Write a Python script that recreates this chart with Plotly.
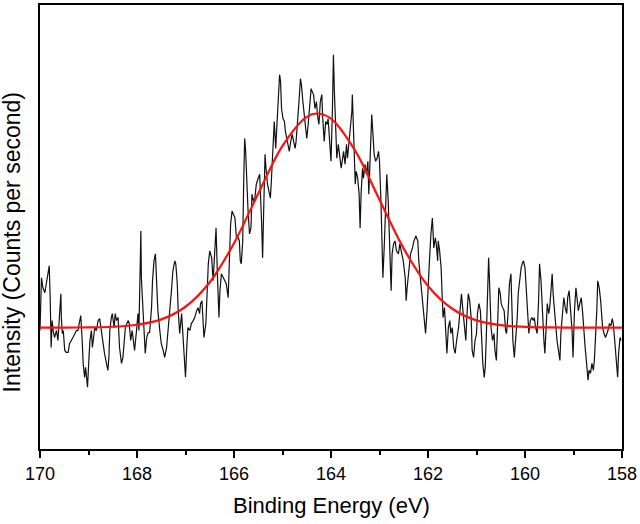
import plotly.graph_objects as go

# Binding energy (eV) and intensity (arbitrary units)
energy = [
    170.00, 169.97, 169.94, 169.90, 169.87, 169.83, 169.81, 169.79, 169.78, 169.77,
    169.75, 169.73, 169.70, 169.66, 169.63, 169.61, 169.59, 169.57, 169.56, 169.54,
    169.52, 169.49, 169.46, 169.42, 169.39, 169.35, 169.32, 169.28, 169.25, 169.22,
    169.18, 169.16, 169.13, 169.11, 169.08, 169.06, 169.02, 169.01, 168.99, 168.97,
    168.94, 168.92, 168.90, 168.87, 168.84, 168.80, 168.77, 168.74, 168.70, 168.67,
    168.63, 168.60, 168.58, 168.56, 168.53, 168.51, 168.47, 168.45, 168.42, 168.39,
    168.36, 168.32, 168.29, 168.27, 168.24, 168.21, 168.18, 168.16, 168.13, 168.10,
    168.07, 168.05, 168.01,
    167.98, 167.96, 167.92, 167.91, 167.88, 167.85, 167.83, 167.80, 167.77, 167.74,
    167.70, 167.68, 167.65, 167.62, 167.60, 167.57, 167.53, 167.50, 167.46, 167.43,
    167.39, 167.36, 167.32, 167.29, 167.26, 167.22, 167.20, 167.17, 167.15, 167.12,
    167.08, 167.05, 167.01, 167.00, 166.97, 166.95, 166.91, 166.88, 166.84, 166.81,
    166.77, 166.74, 166.71, 166.69, 166.66, 166.62, 166.58, 166.55, 166.53, 166.50,
    166.46, 166.43, 166.40, 166.37, 166.34, 166.31, 166.29, 166.26, 166.22, 166.19,
    166.16, 166.12, 166.09, 166.07, 166.04, 166.01, 165.98, 165.95,
    165.91, 165.89, 165.87, 165.85, 165.82, 165.80, 165.78, 165.76, 165.73, 165.71,
    165.68, 165.65, 165.63, 165.60, 165.57, 165.54, 165.50, 165.47, 165.43, 165.41,
    165.39, 165.36, 165.34, 165.31, 165.28, 165.25, 165.23, 165.20, 165.17, 165.14,
    165.12, 165.09, 165.06, 165.04, 165.02, 164.99, 164.96, 164.94, 164.91, 164.88,
    164.86, 164.83, 164.80, 164.77, 164.74, 164.72, 164.69, 164.66, 164.63, 164.61,
    164.58, 164.55, 164.52, 164.50, 164.47, 164.44, 164.41, 164.39, 164.36, 164.33,
    164.30, 164.28, 164.25, 164.22, 164.19, 164.17, 164.14, 164.11, 164.08, 164.06,
    164.03, 164.00, 163.97, 163.95, 163.93, 163.90, 163.88,
    163.85, 163.82, 163.79, 163.77, 163.74, 163.71, 163.68, 163.66, 163.63, 163.60,
    163.57, 163.56, 163.54, 163.52, 163.50, 163.48, 163.45, 163.42, 163.40, 163.38,
    163.35, 163.33, 163.30, 163.27, 163.24, 163.22, 163.19, 163.17, 163.16, 163.13,
    163.11, 163.08, 163.05, 163.02, 163.00, 162.97, 162.95, 162.93, 162.90, 162.87,
    162.85, 162.82, 162.80, 162.78, 162.76, 162.74, 162.71, 162.68, 162.65, 162.61,
    162.58, 162.54, 162.51, 162.47, 162.45, 162.43, 162.39, 162.36, 162.32, 162.29,
    162.25, 162.21, 162.19, 162.16, 162.13, 162.10, 162.08, 162.05, 162.02, 161.99,
    161.97, 161.94, 161.91, 161.88, 161.85, 161.83, 161.80,
    161.79, 161.76, 161.73, 161.71, 161.69, 161.66, 161.64, 161.61, 161.58, 161.55,
    161.53, 161.50, 161.47, 161.44, 161.41, 161.37, 161.34, 161.31, 161.28, 161.25,
    161.22, 161.20, 161.17, 161.14, 161.11, 161.09, 161.06, 161.03, 161.00, 160.98,
    160.95, 160.92, 160.89, 160.87, 160.84, 160.82, 160.80, 160.77, 160.75, 160.73,
    160.70, 160.67, 160.64, 160.62, 160.59, 160.56, 160.54, 160.51, 160.49, 160.46,
    160.43, 160.40, 160.38, 160.35, 160.32, 160.29, 160.27, 160.25, 160.22, 160.19,
    160.16, 160.14, 160.11, 160.08, 160.05, 160.03, 160.00, 159.97, 159.94, 159.92,
    159.89, 159.86, 159.83, 159.81, 159.78, 159.75,
    159.72, 159.70, 159.67, 159.64, 159.61, 159.59, 159.56, 159.54, 159.51, 159.49,
    159.46, 159.44, 159.42, 159.39, 159.36, 159.34, 159.31, 159.28, 159.26, 159.23,
    159.20, 159.17, 159.14, 159.12, 159.09, 159.06, 159.03, 159.01, 158.98, 158.95,
    158.92, 158.90, 158.87, 158.84, 158.81, 158.79, 158.76, 158.73, 158.70, 158.68,
    158.65, 158.62, 158.59, 158.57, 158.54, 158.52, 158.50, 158.47, 158.44, 158.42,
    158.40, 158.37, 158.34, 158.31, 158.29, 158.26, 158.23, 158.20, 158.18, 158.15,
    158.12, 158.09, 158.07, 158.04, 158.02,
]

intensity = [
    119, 172, 162, 157, 166, 179, 184, 152, 119, 102,
    129, 119, 112, 119, 109, 122, 139, 156, 132, 116,
    119, 99, 97, 97, 106, 109, 112, 116, 119, 119,
    129, 134, 109, 86, 72, 82, 62, 79, 92, 109,
    119, 102, 109, 122, 119, 129, 131, 119, 102, 96,
    86, 79, 92, 119, 132, 136, 122, 136, 129, 132,
    102, 86, 92, 106, 122, 126, 129, 126, 109, 119,
    102, 99, 119,
    136, 119, 219, 172, 146, 112, 96, 112, 117, 117,
    142, 169, 189, 196, 172, 139, 119, 106, 99, 92,
    102, 119, 136, 159, 179, 189, 186, 166, 139, 116,
    136, 112, 92, 72, 106, 122, 119, 126, 129, 132,
    139, 142, 136, 146, 149, 112, 126, 156, 186, 199,
    192, 169, 199, 222, 172, 132, 159, 176, 172, 169,
    166, 152, 192, 226, 239, 236, 232, 212,
    212, 209, 189, 186, 209, 269, 312, 299, 252, 239,
    216, 222, 256, 249, 252, 266, 272, 276, 226, 192,
    236, 296, 282, 266, 259, 252, 269, 309, 329, 302,
    319, 342, 376, 369, 342, 332, 329, 319, 312, 302,
    299, 309, 316, 309, 302, 309, 326, 349, 372, 366,
    349, 332, 322, 312, 326, 349, 362, 359, 356, 342,
    349, 336, 326, 349, 356, 332, 309, 329, 326, 332,
    312, 289, 342, 396, 359, 309, 292,
    306, 292, 282, 289, 299, 286, 306, 292, 306, 322,
    339, 356, 322, 289, 266, 279, 272, 256, 222, 256,
    282, 272, 286, 276, 289, 256, 289, 312, 336, 312,
    296, 289, 292, 299, 289, 249, 189, 172, 206, 249,
    276, 249, 222, 189, 159, 196, 206, 209, 199, 196,
    206, 196, 189, 172, 149, 162, 182, 196, 202, 209,
    214, 209, 189, 172, 156, 146, 129, 116, 139, 162,
    189, 216, 232, 202, 212, 206, 189,
    209, 199, 182, 149, 132, 142, 116, 96, 122, 129,
    116, 122, 102, 96, 109, 122, 139, 156, 139, 122,
    109, 132, 156, 149, 132, 99, 92, 109, 116, 136,
    146, 139, 106, 86, 72, 82, 109, 149, 192, 166,
    122, 109, 116, 99, 89, 132, 162, 156, 146, 142,
    139, 119, 116, 136, 166, 176, 149, 109, 92, 109,
    132, 156, 172, 182, 187, 189, 182, 156, 132, 116,
    129, 132, 129, 132, 122, 116,
    149, 186, 169, 132, 109, 96, 122, 146, 136, 142,
    162, 176, 156, 136, 122, 109, 99, 89, 116, 136,
    152, 142, 136, 152, 159, 139, 119, 92, 139, 162,
    149, 139, 146, 152, 136, 119, 102, 86, 69, 79,
    76, 86, 79, 89, 116, 139, 169, 162, 149, 129,
    122, 116, 112, 116, 119, 126, 124, 131, 126, 109,
    89, 72, 96, 112, 109,
]

# Red fitted peak, read at 0.5 eV steps
fit_energy = [170.0, 169.5, 169.0, 168.5, 168.0, 167.5, 167.0, 166.5, 166.0, 165.5,
              165.0, 164.5, 164.28, 164.0, 163.5, 163.0, 162.5, 162.0, 161.5, 161.0,
              160.5, 160.0, 159.5, 159.0, 158.5, 158.0]
fit_intensity = [122, 122, 122.2, 122.8, 124.8, 130.2, 142.9, 167.5, 206.7, 256.6,
                 304.6, 333.7, 337, 331.8, 299.5, 250.4, 201.3, 163.8, 140.9, 129.2,
                 124.4, 122.7, 122.1, 122, 122, 122]

x_ticks = [170, 168, 166, 164, 162, 160, 158]

FONT = "Liberation Sans, Arial, sans-serif"

fig = go.Figure()
fig.add_trace(go.Scatter(x=energy, y=intensity, mode="lines",
                         line=dict(color="#111111", width=1.2), showlegend=False,
                         hoverinfo="skip"))
fig.add_trace(go.Scatter(x=fit_energy, y=fit_intensity, mode="lines",
                         line=dict(color="#ff1010", width=2.2, shape="spline"),
                         showlegend=False, hoverinfo="skip"))

fig.update_layout(
    width=640, height=524,
    margin=dict(l=40, r=18, t=3, b=75),
    paper_bgcolor="white", plot_bgcolor="white",
    font=dict(family=FONT, color="black"),
    xaxis=dict(range=[170, 158], tickvals=x_ticks, ticktext=[str(t) for t in x_ticks],
               ticks="outside", ticklen=7, tickwidth=1.5, tickcolor="black",
               minor=dict(ticks="outside", ticklen=4, dtick=1, tickcolor="black", tickwidth=1.5),
               showline=True, linecolor="black", linewidth=2, mirror=True,
               showgrid=False, zeroline=False,
               tickfont=dict(size=18, family=FONT, color="black")),
    yaxis=dict(range=[0, 446], showticklabels=False, ticks="",
               showline=True, linecolor="black", linewidth=2, mirror=True,
               showgrid=False, zeroline=False),
    annotations=[
        dict(text="Binding Energy (eV)", xref="paper", yref="paper",
             x=0.5, y=-57 / 446, xanchor="center", yanchor="middle",
             showarrow=False, font=dict(size=22, family=FONT, color="black")),
        dict(text="Intensity (Counts per second)", xref="paper", yref="paper",
             x=-28 / 582, y=207.5 / 446, xanchor="center", yanchor="middle",
             textangle=-90, showarrow=False,
             font=dict(size=23, family=FONT, color="black")),
    ],
)

fig.write_html("out.html", config={"displayModeBar": False},
               post_script="document.body.style.margin='0px';")
